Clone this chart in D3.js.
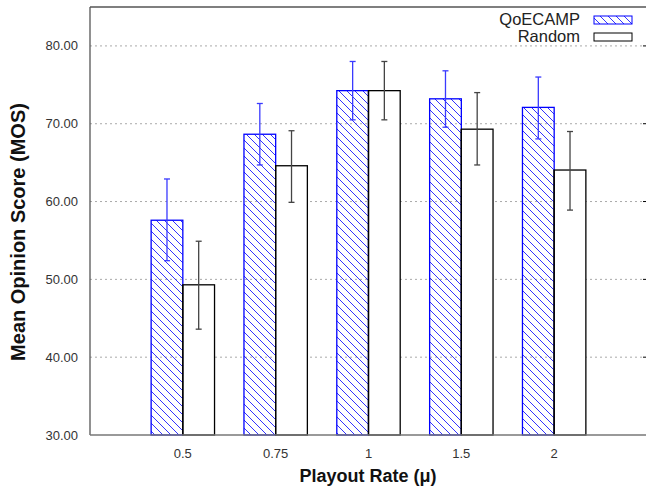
<!DOCTYPE html>
<html>
<head>
<meta charset="utf-8">
<script src="https://cdn.jsdelivr.net/npm/d3@7"></script>
<style>
  body { margin: 0; background: #fff; }
  text { font-family: "Liberation Sans", Arial, sans-serif; }
</style>
</head>
<body>
<div id="chart"></div>
<script>
// playout rates on the x axis
var rates = ["0.5", "0.75", "1", "1.5", "2"];
var seriesNames = ["QoECAMP", "Random"];
// mean MOS per rate
var qoeMeans = [57.6, 68.65, 74.25, 73.2, 72.1];
var randomMeans = [49.3, 64.6, 74.25, 69.3, 64.05];
// error bar ends (low, high)
var qoeLow = [52.4, 64.7, 70.5, 69.55, 68.05];
var qoeHigh = [62.9, 72.6, 78.0, 76.8, 76.0];
var randomLow = [43.6, 59.9, 70.5, 64.7, 58.9];
var randomHigh = [54.9, 69.1, 78.0, 74.0, 69.0];
var yTicks = [30, 40, 50, 60, 70, 80];

var width = 646, height = 487;
var plotL = 90, plotR = 647, plotT = 7, plotB = 435;

var svg = d3.select("#chart").append("svg")
    .attr("width", width)
    .attr("height", height);

var defs = svg.append("defs");
defs.append("pattern")
    .attr("id", "hatch")
    .attr("patternUnits", "userSpaceOnUse")
    .attr("width", 8)
    .attr("height", 8)
    .append("path")
    .attr("d", "M-2,-2 L10,10 M-2,6 L2,10 M6,-2 L10,2")
    .attr("stroke", "#0000ff")
    .attr("stroke-width", 1)
    .attr("stroke-opacity", 0.8);

var x = d3.scalePoint().domain(rates).range([plotL, plotR]).padding(1);
var y = d3.scaleLinear().domain([30, 85]).range([plotB, plotT]);
var barW = 31.7;

// grid lines
svg.selectAll(".grid")
    .data(yTicks.filter(function(d) { return d > 30; }))
    .enter().append("line")
    .attr("x1", plotL).attr("x2", plotR - 4)
    .attr("y1", function(d) { return y(d); })
    .attr("y2", function(d) { return y(d); })
    .attr("stroke", "#aaa")
    .attr("stroke-dasharray", "2,3");

// right mirror ticks
svg.selectAll(".rtick")
    .data(yTicks.filter(function(d) { return d > 30; }))
    .enter().append("line")
    .attr("x1", plotR - 4).attr("x2", plotR)
    .attr("y1", function(d) { return y(d); })
    .attr("y2", function(d) { return y(d); })
    .attr("stroke", "#000");

var data = rates.map(function(r, i) {
    return [
        {rate: r, k: 0, v: qoeMeans[i], lo: qoeLow[i], hi: qoeHigh[i]},
        {rate: r, k: 1, v: randomMeans[i], lo: randomLow[i], hi: randomHigh[i]}
    ];
}).flat();

var bars = svg.selectAll(".bar")
    .data(data)
    .enter().append("g");

bars.append("rect")
    .attr("x", function(d) { return x(d.rate) - barW + d.k * barW; })
    .attr("y", function(d) { return y(d.v); })
    .attr("width", barW)
    .attr("height", function(d) { return plotB - y(d.v); })
    .attr("fill", function(d) { return d.k == 0 ? "url(#hatch)" : "#fff"; })
    .attr("stroke", function(d) { return d.k == 0 ? "#0000ff" : "#000"; })
    .attr("stroke-width", 1.3);

// shared edge drawn in black like the original
bars.filter(function(d) { return d.k == 1; }).append("line")
    .attr("x1", function(d) { return x(d.rate); })
    .attr("x2", function(d) { return x(d.rate); })
    .attr("y1", function(d) { return y(Math.min(d.v, qoeMeans[rates.indexOf(d.rate)])); })
    .attr("y2", plotB)
    .attr("stroke", "#000")
    .attr("stroke-width", 1.3);

// error bars
bars.each(function(d) {
    var g = d3.select(this);
    var cx = x(d.rate) - barW / 2 + d.k * barW;
    var col = d.k == 0 ? "#3a3aff" : "#444";
    g.append("line")
        .attr("x1", cx).attr("x2", cx)
        .attr("y1", y(d.lo)).attr("y2", y(d.hi))
        .attr("stroke", col).attr("stroke-width", 1.3);
    [d.lo, d.hi].forEach(function(e) {
        g.append("line")
            .attr("x1", cx - 3).attr("x2", cx + 3)
            .attr("y1", y(e)).attr("y2", y(e))
            .attr("stroke", col).attr("stroke-width", 1.3);
    });
});

// frame
svg.append("line").attr("x1", plotL).attr("x2", plotL).attr("y1", plotT).attr("y2", plotB)
    .attr("stroke", "#555").attr("stroke-width", 1.3);
svg.append("line").attr("x1", plotL).attr("x2", width).attr("y1", plotT).attr("y2", plotT)
    .attr("stroke", "#555").attr("stroke-width", 1.3);
svg.append("line").attr("x1", plotL).attr("x2", width).attr("y1", plotB).attr("y2", plotB)
    .attr("stroke", "#777").attr("stroke-width", 1.5);

// y tick labels
svg.selectAll(".ylab")
    .data(yTicks)
    .enter().append("text")
    .attr("x", 78)
    .attr("y", function(d) { return y(d); })
    .attr("dy", "0.35em")
    .attr("text-anchor", "end")
    .attr("font-size", 13)
    .attr("fill", "#333")
    .text(function(d) { return d3.format(".2f")(d); });

// x tick labels
svg.selectAll(".xlab")
    .data(rates)
    .enter().append("text")
    .attr("x", function(d) { return x(d); })
    .attr("y", 458)
    .attr("text-anchor", "middle")
    .attr("font-size", 13)
    .attr("fill", "#333")
    .text(function(d) { return d; });

svg.append("text")
    .attr("x", 368)
    .attr("y", 482)
    .attr("text-anchor", "middle")
    .attr("font-size", 18)
    .attr("font-weight", "bold")
    .attr("fill", "#111")
    .text("Playout Rate (\u03bc)");

svg.append("text")
    .attr("transform", "translate(25," + 232 + ") rotate(-90)")
    .attr("text-anchor", "middle")
    .attr("font-size", 20)
    .attr("font-weight", "bold")
    .attr("fill", "#111")
    .text("Mean Opinion Score (MOS)");

// legend
var legend = svg.selectAll(".legend")
    .data(seriesNames)
    .enter().append("g")
    .attr("transform", function(d, i) { return "translate(0," + (i * 17) + ")"; });

legend.append("text")
    .attr("x", 580)
    .attr("y", 19.5)
    .attr("dy", "0.35em")
    .attr("text-anchor", "end")
    .attr("font-size", 16.5)
    .attr("fill", "#222")
    .text(function(d) { return d; });

legend.append("rect")
    .attr("x", 594)
    .attr("y", 16)
    .attr("width", 38)
    .attr("height", 8)
    .attr("fill", function(d, i) { return i == 0 ? "url(#hatch)" : "#fff"; })
    .attr("stroke", function(d, i) { return i == 0 ? "#0000ff" : "#000"; })
    .attr("stroke-width", 1);
</script>
</body>
</html>
